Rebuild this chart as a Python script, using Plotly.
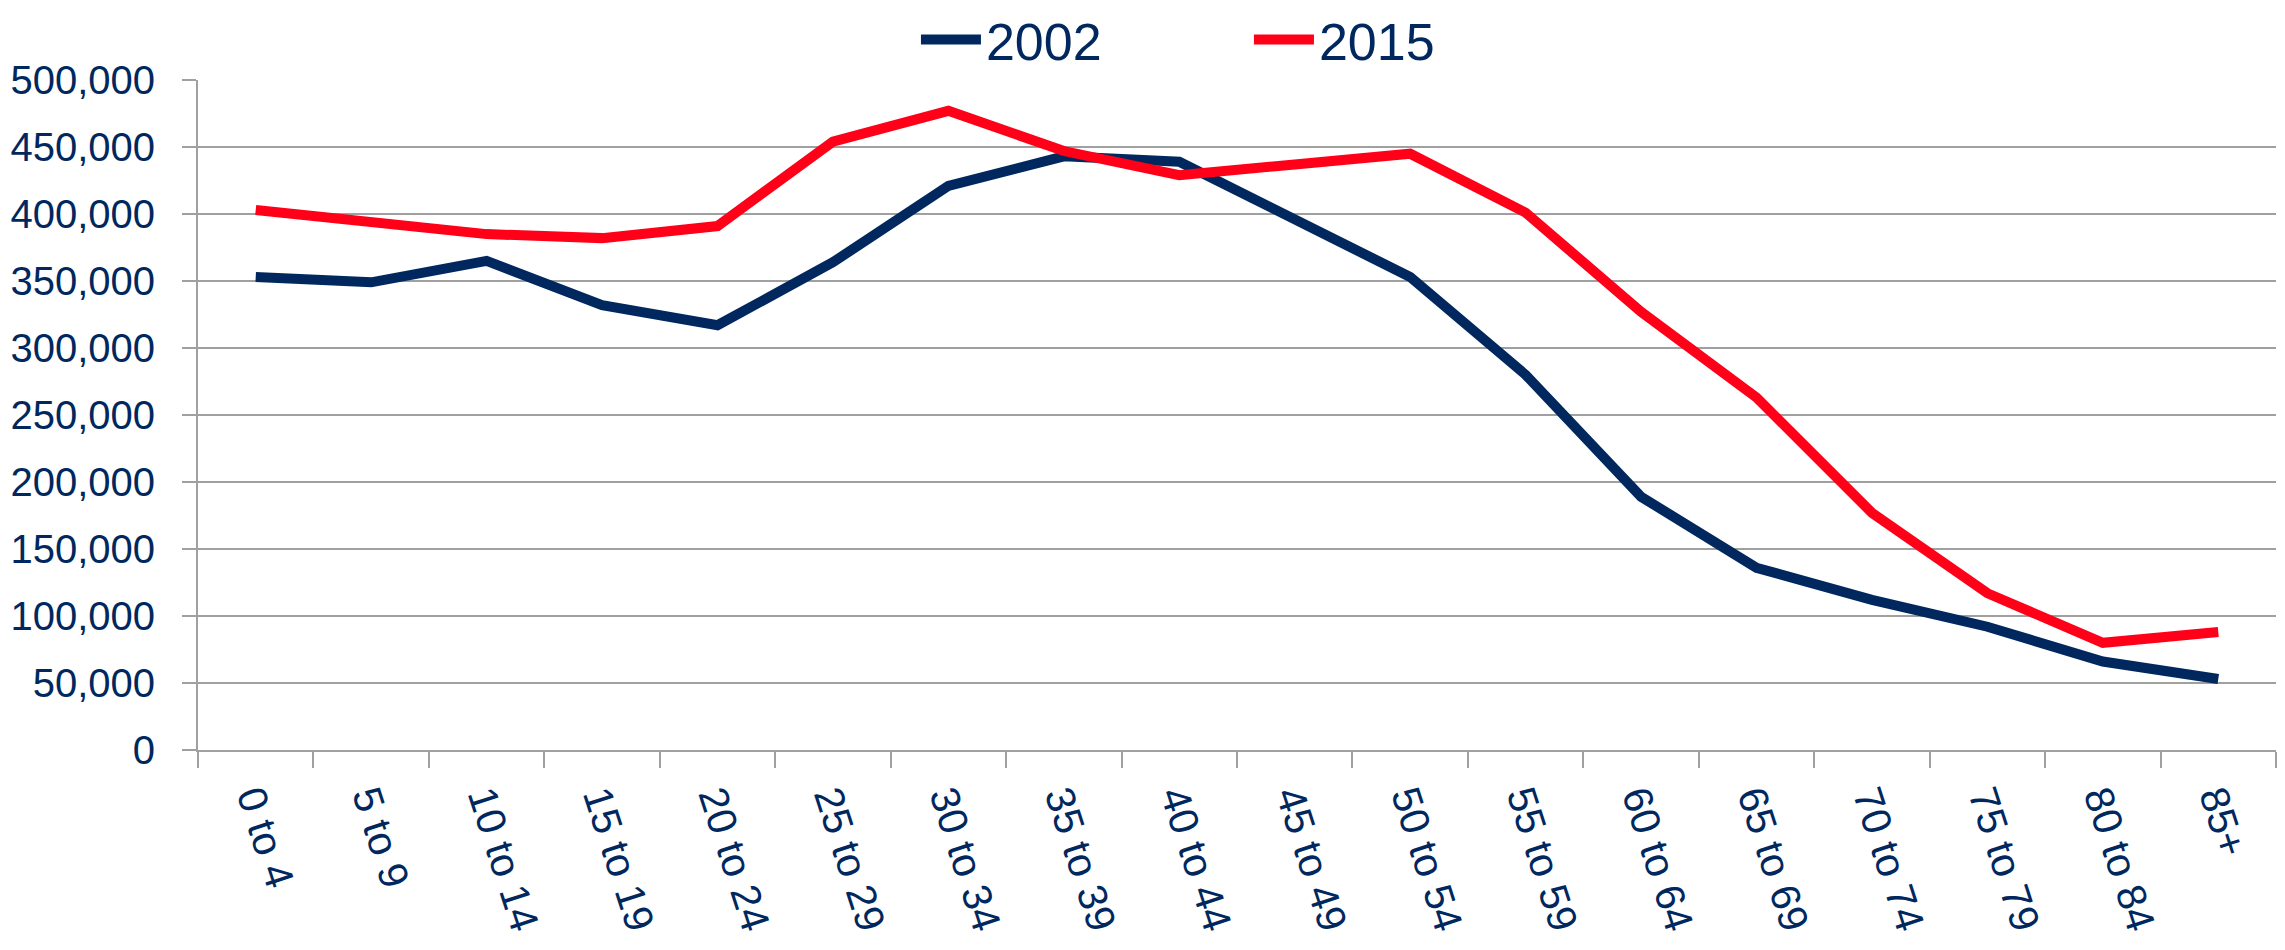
import plotly.graph_objects as go

age_groups = ["0 to 4", "5 to 9", "10 to 14", "15 to 19", "20 to 24", "25 to 29",
              "30 to 34", "35 to 39", "40 to 44", "45 to 49", "50 to 54", "55 to 59",
              "60 to 64", "65 to 69", "70 to 74", "75 to 79", "80 to 84", "85+"]
pop_2002 = [353000, 349000, 365000, 332000, 317000, 364000, 421000, 443000, 439000,
            396000, 353000, 280000, 189000, 136000, 112000, 92000, 66000, 53000]
pop_2015 = [403000, 394000, 385000, 382000, 391000, 454000, 477000, 447000, 429000,
            437000, 445000, 401000, 327000, 263000, 177000, 117000, 80000, 88000]
y_tick_values = list(range(0, 500001, 50000))
y_tick_labels = [f"{v:,}" for v in y_tick_values]

NAVY = "#00285E"
RED = "#FF0018"
GRID = "#A0A0A0"
REG = "Liberation Sans, Arial, sans-serif"

fig = go.Figure()
fig.add_trace(go.Scatter(x=age_groups, y=pop_2002, name="2002", mode="lines",
                         line=dict(color=NAVY, width=10)))
fig.add_trace(go.Scatter(x=age_groups, y=pop_2015, name="2015", mode="lines",
                         line=dict(color=RED, width=10)))

fig.update_layout(
    width=2269, height=934,
    margin=dict(l=190, r=1, t=72, b=192, autoexpand=False),
    plot_bgcolor="white", paper_bgcolor="white",
    font=dict(family=REG, color=NAVY, size=42),
    legend=dict(orientation="h", x=0.3455, xanchor="left", yref="container",
                y=0.966, yanchor="middle", font=dict(family=REG, size=52, color=NAVY),
                itemwidth=60, entrywidth=258, bgcolor="rgba(0,0,0,0)"),
    showlegend=True,
)
fig.update_xaxes(type="category", range=[-0.5, 17.5], tickson="boundaries",
                 ticks="outside", ticklen=16, tickcolor=GRID, tickwidth=2,
                 showline=True, linecolor=GRID, linewidth=2, showgrid=False,
                 tickangle=72, tickfont=dict(family=REG, size=41, color=NAVY),
                 ticklabelstandoff=6, automargin=False)
fig.update_yaxes(range=[0, 500000], tickvals=y_tick_values, ticktext=y_tick_labels,
                 ticks="outside", ticklen=14, tickcolor=GRID, tickwidth=2,
                 showline=True, linecolor=GRID, linewidth=2,
                 showgrid=True, gridcolor=GRID, gridwidth=2, zeroline=False,
                 tickfont=dict(family=REG, size=40, color=NAVY),
                 ticklabelstandoff=19, automargin=False)

fig.write_html("out.html")
